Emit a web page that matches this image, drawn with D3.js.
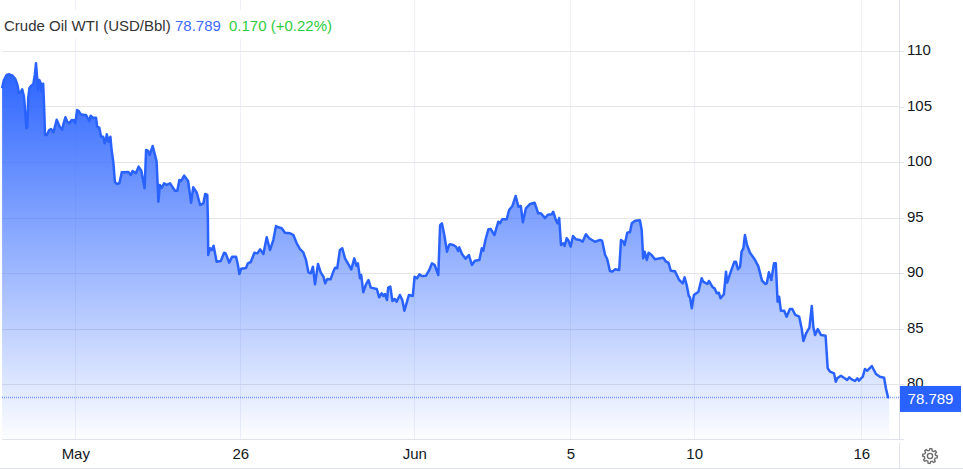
<!DOCTYPE html>
<html>
<head>
<meta charset="utf-8">
<script src="https://cdn.jsdelivr.net/npm/d3@7"></script>
<style>
    html, body { margin: 0; padding: 0; background: #fff; }
    svg { display: block; font-family: "Liberation Sans", Arial, sans-serif; }
    .grid line { shape-rendering: crispEdges; }
    .axis path, .axis line { stroke: #e0e3eb; shape-rendering: crispEdges; }
    .axis text { fill: #131722; font-size: 15px; }
</style>
</head>
<body>
<script>
//chart values
var yTicks = [110, 105, 100, 95, 90, 85, 80];
var xTickHours = [25.1, 80.1, 138.1, 190.1, 231.4, 287.1];
var xTickLabels = ["May", "26", "Jun", "5", "10", "16"];
var titleParts = ["Crude Oil WTI (USD/Bbl)", "78.789", "0.170 (+0.22%)"];
var lastPrice = 78.789;

//trading hours since the start of the window (10 per row, matches prices below)
var hours = [
    0.7, 1.3, 2.2, 3.1, 4.2, 5.1, 5.8, 6.3, 6.9, 7.4,
    8, 8.4, 8.8, 9.1, 9.4, 9.8, 10.4, 11.1, 11.6, 12,
    12.4, 12.7, 13.1, 13.6, 13.9, 14.4, 14.8, 15, 15.6, 16.4,
    17, 17.8, 18.3, 18.9, 19.4, 19.9, 20.7, 21.2, 21.8, 22.4,
    23.1, 23.9, 24.7, 25.1, 25.7, 26.2, 26.9, 28, 28.7, 29.4,
    29.8, 30.2, 30.9, 32, 32.4, 33.1, 33.7, 34.4, 34.9, 35.3,
    35.6, 36.2, 36.8, 37.2, 37.8, 38.3, 38.9, 39.8, 40.6, 42.8,
    43.6, 44.2, 45.3, 46.2, 47.1, 48.2, 48.7, 49.3, 49.9, 50.9,
    52.2, 52.8, 53.3, 53.9, 54.7, 55.6, 56.7, 58.3, 59.1, 59.8,
    60.4, 61.4, 62.7, 63.7, 64.4, 65.6, 66.7, 67.8, 68.4, 69.1,
    69.3, 69.4, 70, 70.6, 71.2, 72.2, 73.6, 74.7, 75.2, 76.4,
    77.4, 78.7, 79.3, 79.8, 80.4, 82, 82.6, 83.6, 84.8, 85.8,
    86.7, 87.8, 88.9, 90, 91.1, 92, 92.8, 93.9, 95, 96.7,
    97.8, 98.9, 100, 101.1, 102, 102.8, 103.6, 104.3, 105, 106,
    106.9, 107.8, 108.4, 109.1, 110.2, 111.1, 111.7, 112.4, 113.3, 114.1,
    115, 116.1, 117.1, 118.1, 118.8, 119.3, 120, 120.4, 121.1, 121.9,
    122.8, 123.6, 125.6, 126.4, 127.2, 127.8, 128.3, 129, 129.4, 130.1,
    130.8, 131.6, 132.2, 133.3, 134.1, 134.8, 135.6, 136.3, 137.6, 138.2,
    139, 139.8, 140.6, 142, 143.1, 144, 144.9, 146.1, 146.7, 147.3,
    148.1, 149, 149.7, 150, 151.1, 152, 152.7, 153.1, 154, 155.2,
    156.3, 157.3, 158.3, 159.8, 160.6, 161.1, 161.8, 162.8, 163.6, 164.8,
    166.1, 166.7, 167.4, 168.9, 169.7, 170.8, 171.9, 172.8, 173.6, 174.3,
    175.3, 176.7, 178.2, 179.4, 180.3, 181.7, 182.6, 183.9, 184.4, 185.3,
    185.8, 186.4, 187, 187.8, 188.2, 188.9, 189.4, 190.2, 191, 192,
    193.3, 194.2, 195.3, 196.4, 198.3, 200, 200.7, 201.7, 202.4, 203.3,
    204.1, 205, 206.4, 207, 207.8, 208.2, 209.1, 210, 210.6, 211.7,
    213.3, 213.9, 214.4, 214.9, 215.6, 216.2, 217.2, 218.3, 221.1, 222,
    222.8, 223.6, 225, 226.4, 227.6, 228.2, 228.9, 229.6, 230, 230.6,
    231.3, 232.8, 233.9, 234.4, 235.8, 236.3, 237.6, 238.2, 238.9, 239.6,
    240.2, 241.3, 242, 242.4, 243.6, 244.8, 245.3, 246, 246.7, 247.2,
    247.8, 248.3, 249, 250, 251.7, 252.8, 254, 255.1, 255.6, 256.3,
    257.1, 258, 258.6, 259.2, 259.7, 260.3, 261.4, 262.2, 263.3, 264.1,
    265.1, 266.4, 267.2, 267.8, 268.7, 269.8, 270.6, 271.1, 271.7, 272.6,
    273.7, 275.2, 275.9, 276.7, 278, 278.6, 279.1, 280.3, 281.3, 282.4,
    283.1, 283.9, 285, 285.8, 286.3, 287.6, 288.3, 289.1, 290.6, 292,
    293.3, 294.7, 295.3, 296, 296.4
];

//price at each of those hours, USD per barrel
var prices = [
    106.64, 107.39, 107.84, 107.90, 107.77, 107.48, 106.94, 106.24, 106.28, 106.55,
    105.88, 104.53, 103.04, 103.18, 105.74, 106.64, 106.87, 107.00, 107.84, 108.89,
    107.54, 106.49, 107.39, 107.09, 106.33, 107.05, 104.23, 102.43, 102.43, 102.88,
    102.97, 102.68, 103.18, 103.81, 103.49, 103.18, 102.91, 103.49, 104.03, 103.63,
    103.49, 103.78, 103.76, 103.49, 104.68, 104.59, 104.30, 104.23, 104.23, 103.87,
    103.69, 104.17, 103.99, 103.99, 103.18, 103.09, 102.28, 102.28, 101.68, 101.98,
    102.50, 101.83, 102.28, 101.08, 99.91, 98.20, 98.02, 98.08, 99.07, 99.10,
    98.83, 99.19, 98.98, 99.58, 99.22, 97.63, 101.08, 101.02, 100.63, 101.44,
    100.06, 96.42, 97.93, 97.66, 98.08, 97.93, 98.08, 97.41, 97.41, 98.38,
    98.29, 98.77, 98.29, 96.33, 97.72, 97.23, 96.13, 96.28, 97.12, 97.03,
    94.77, 91.62, 92.23, 92.07, 92.46, 91.02, 91.08, 91.83, 91.77, 90.93,
    91.47, 91.47, 90.72, 89.91, 90.39, 90.45, 90.87, 90.99, 91.83, 91.77,
    92.13, 91.71, 93.22, 92.07, 92.97, 94.23, 94.12, 94.03, 93.63, 93.58,
    93.42, 92.68, 92.16, 91.86, 91.17, 90.06, 89.97, 90.57, 88.98, 90.81,
    90.06, 89.67, 89.07, 89.46, 89.43, 90.12, 90.48, 90.42, 92.07, 92.23,
    91.32, 90.81, 90.33, 91.32, 90.66, 90.87, 89.52, 89.82, 88.26, 88.92,
    89.37, 88.68, 88.56, 87.81, 88.17, 87.93, 88.11, 87.57, 88.68, 88.77,
    87.48, 87.66, 87.41, 88.02, 87.57, 86.60, 87.36, 88.02, 87.93, 89.67,
    89.52, 89.88, 89.73, 89.76, 90.27, 90.87, 90.72, 89.82, 94.32, 94.48,
    93.42, 91.92, 92.52, 92.59, 92.52, 92.37, 91.98, 92.31, 91.71, 91.29,
    91.62, 90.72, 91.11, 91.17, 92.23, 92.01, 92.97, 93.94, 93.96, 93.42,
    94.62, 94.48, 94.84, 94.84, 95.68, 96.04, 96.94, 95.97, 96.04, 94.57,
    95.83, 96.22, 96.33, 95.38, 95.38, 94.95, 95.25, 95.29, 95.52, 94.77,
    94.48, 94.95, 92.52, 92.68, 92.43, 93.13, 92.97, 92.37, 93.33, 93.04,
    92.97, 92.82, 93.49, 93.13, 92.82, 92.97, 92.91, 91.62, 91.26, 90.18,
    90.12, 90.33, 90.27, 92.97, 92.82, 92.52, 93.63, 93.69, 94.48, 94.71,
    94.75, 93.87, 91.32, 91.92, 91.17, 91.83, 91.62, 91.23, 91.38, 91.02,
    90.93, 90.21, 90.15, 89.37, 89.07, 89.61, 88.92, 87.93, 87.81, 86.82,
    88.02, 88.31, 89.52, 89.22, 89.01, 89.28, 88.71, 88.62, 88.17, 88.22,
    87.72, 88.08, 90.12, 89.13, 90.12, 91.02, 91.02, 90.33, 90.57, 91.92,
    92.23, 93.42, 92.52, 91.83, 91.17, 90.57, 89.31, 89.01, 89.07, 90.06,
    89.37, 90.87, 90.87, 87.41, 87.86, 86.60, 86.60, 86.06, 86.76, 86.76,
    86.22, 86.06, 85.02, 83.87, 84.57, 85.07, 87.03, 85.16, 84.41, 84.95,
    84.41, 84.35, 81.41, 81.11, 80.96, 80.21, 80.51, 80.75, 80.57, 80.36,
    80.60, 80.42, 80.27, 80.51, 80.30, 80.66, 81.35, 81.20, 81.62, 80.90,
    80.66, 80.57, 79.61, 78.80, 78.789
];

setChart();

function setChart(){

    //frame dimensions
    var width = 963,
        height = 469,
        plotLeft = 2,
        plotRight = 899,
        plotBottom = 439;

    var svg = d3.select("body")
        .append("svg")
        .attr("width", width)
        .attr("height", height);

    //3px per trading hour, 11.1px per dollar
    var x = d3.scaleLinear().domain([0, 300]).range([0, 900]);
    var y = d3.scaleLinear().domain([110, 80]).range([51, 384]);

    var points = hours.map(function(h, i){ return [h, prices[i]]; });

    //area gradient
    var grad = svg.append("defs").append("linearGradient")
        .attr("id", "areaFill")
        .attr("gradientUnits", "userSpaceOnUse")
        .attr("x1", 0).attr("x2", 0)
        .attr("y1", y(d3.max(prices))).attr("y2", plotBottom);
    grad.append("stop").attr("offset", 0).attr("stop-color", "#2962ff").attr("stop-opacity", 1);
    grad.append("stop").attr("offset", 1).attr("stop-color", "#2962ff").attr("stop-opacity", 0.01);

    //gridlines
    var grid = svg.append("g").attr("class", "grid");
    grid.selectAll(".vGrid")
        .data(xTickHours)
        .enter()
        .append("line")
        .attr("x1", function(d){ return Math.round(x(d)) + 0.5; })
        .attr("x2", function(d){ return Math.round(x(d)) + 0.5; })
        .attr("y1", 0)
        .attr("y2", plotBottom)
        .attr("stroke", "#eef1f8");
    grid.selectAll(".hGrid")
        .data(yTicks)
        .enter()
        .append("line")
        .attr("x1", plotLeft)
        .attr("x2", plotRight)
        .attr("y1", function(d){ return Math.round(y(d)) + 0.5; })
        .attr("y2", function(d){ return Math.round(y(d)) + 0.5; })
        .attr("stroke", "#e6e6e6");

    //white plate behind the title
    svg.append("rect")
        .attr("x", plotLeft)
        .attr("y", 10)
        .attr("width", 338)
        .attr("height", 29)
        .attr("fill", "#fff");

    //area and line
    var area = d3.area()
        .x(function(d){ return x(d[0]); })
        .y0(plotBottom)
        .y1(function(d){ return y(d[1]); });
    var line = d3.line()
        .x(function(d){ return x(d[0]); })
        .y(function(d){ return y(d[1]); });

    svg.append("path")
        .datum(points)
        .attr("d", area)
        .attr("fill", "url(#areaFill)");

    //last price dotted line
    svg.append("line")
        .attr("x1", plotLeft)
        .attr("x2", plotRight)
        .attr("y1", y(lastPrice))
        .attr("y2", y(lastPrice))
        .attr("stroke", "#2962ff")
        .attr("stroke-opacity", 0.6)
        .attr("stroke-width", 1.5)
        .attr("stroke-dasharray", "1,1");

    svg.append("path")
        .datum(points)
        .attr("d", line)
        .attr("fill", "none")
        .attr("stroke", "#2962ff")
        .attr("stroke-width", 2.5)
        .attr("stroke-linejoin", "round");

    //axes
    var yAxis = d3.axisRight(y)
        .tickValues(yTicks)
        .tickSize(5)
        .tickPadding(3);
    svg.append("g")
        .attr("class", "axis")
        .attr("transform", "translate(" + plotRight + ",0)")
        .call(yAxis)
        .call(function(g){
            g.select(".domain").remove();
            g.selectAll("text").attr("dy", "0.25em");
        });

    var xAxis = d3.axisBottom(x)
        .tickValues(xTickHours)
        .tickFormat(function(d, i){ return xTickLabels[i]; })
        .tickSize(0)
        .tickPadding(9);
    svg.append("g")
        .attr("class", "axis")
        .attr("transform", "translate(0," + plotBottom + ")")
        .call(xAxis)
        .call(function(g){ g.select(".domain").remove(); });

    //frame lines
    var frame = [
        [plotLeft, plotRight + 5, plotBottom + 0.5, plotBottom + 0.5],
        [plotRight + 0.5, plotRight + 0.5, 0, plotBottom],
        [plotRight + 0.5, plotRight + 0.5, 443, height],
        [0, width, 468.5, 468.5]
    ];
    svg.selectAll(".frame")
        .data(frame)
        .enter()
        .append("line")
        .attr("x1", function(d){ return d[0]; })
        .attr("x2", function(d){ return d[1]; })
        .attr("y1", function(d){ return d[2]; })
        .attr("y2", function(d){ return d[3]; })
        .attr("stroke", "#e0e3eb")
        .attr("shape-rendering", "crispEdges");

    //last price label
    svg.append("rect")
        .attr("x", 900)
        .attr("y", y(lastPrice) - 11.5)
        .attr("width", 61)
        .attr("height", 26)
        .attr("fill", "#2962ff");
    svg.append("text")
        .attr("x", 930.5)
        .attr("y", y(lastPrice) + 7)
        .attr("text-anchor", "middle")
        .attr("fill", "#fff")
        .attr("font-size", 15)
        .text(d3.format(".3f")(lastPrice));

    //title
    var title = svg.append("text")
        .attr("y", 31)
        .attr("font-size", 15);
    title.append("tspan").attr("x", 4).attr("fill", "#333").text(titleParts[0]);
    title.append("tspan").attr("x", 175).attr("fill", "#4169ff").text(titleParts[1]);
    title.append("tspan").attr("x", 229).attr("fill", "#2ecc40").text(titleParts[2]);

    drawGear(svg, 930, 456);
}; //end of setChart()

//settings icon in the corner
function drawGear(svg, cx, cy){
    var teeth = d3.range(0, 48).map(function(i){
        var inTooth = i % 6 < 3;
        return [i / 48 * 2 * Math.PI, inTooth ? 7.4 : 5.6];
    });
    var g = svg.append("g")
        .attr("transform", "translate(" + cx + "," + cy + ")")
        .attr("fill", "none")
        .attr("stroke", "#6b6b6b")
        .attr("stroke-width", 1.4);
    g.append("path")
        .attr("d", d3.lineRadial().curve(d3.curveLinearClosed)(teeth));
    g.append("circle").attr("r", 2.6);
};
</script>
</body>
</html>
